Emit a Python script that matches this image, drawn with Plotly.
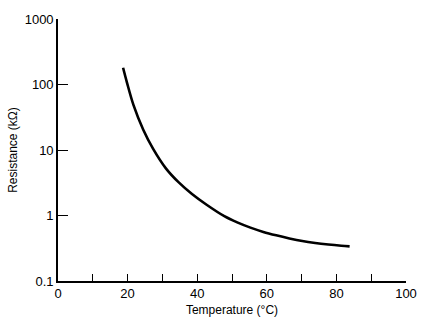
import plotly.graph_objects as go

temperature = [18.7, 19.8, 21.7, 24.5, 27.3, 31.0, 34.7, 38.5, 42.7, 47.8, 51.5, 55.3, 59.0, 62.7, 66.5, 70.2, 73.9, 77.7, 81.4, 83.8]
resistance = [180, 108, 48.5, 20.4, 10.5, 5.25, 3.2, 2.13, 1.46, 0.977, 0.785, 0.653, 0.562, 0.498, 0.447, 0.408, 0.381, 0.361, 0.346, 0.338]

x_ticks = [0, 10, 20, 30, 40, 50, 60, 70, 80, 90, 100]
x_ticktext = ["0", "", "20", "", "40", "", "60", "", "80", "", "100"]
y_ticks = [0.1, 1, 10, 100, 1000]
y_ticktext = ["0.1", "1", "10", "100", "1000"]

fig = go.Figure()
fig.add_trace(go.Scatter(x=temperature, y=resistance, mode="lines",
                         line=dict(color="black", width=2.6, shape="spline", smoothing=1.0),
                         showlegend=False))

tick_font = dict(family="Liberation Sans, Arial, sans-serif", size=13, color="black")
title_font = dict(family="Liberation Sans, Arial, sans-serif", size=12, color="black")
fig.update_layout(
    width=429, height=327,
    margin=dict(l=56, r=16, t=13, b=44),
    paper_bgcolor="white", plot_bgcolor="white",
    font=tick_font,
    xaxis=dict(range=[0, 100], tickvals=x_ticks, ticktext=x_ticktext,
               ticks="inside", ticklen=7, tickwidth=1.2, tickcolor="black",
               showline=True, linecolor="black", linewidth=1.6,
               showgrid=False, zeroline=False, tickfont=tick_font,
               title=dict(text="Temperature (°C)", standoff=5, font=title_font)),
    yaxis=dict(type="log", range=[-1, 3], tickvals=y_ticks, ticktext=y_ticktext,
               ticks="inside", ticklen=10, tickwidth=1.2, tickcolor="black",
               showline=True, linecolor="black", linewidth=1.6,
               showgrid=False, zeroline=False, tickfont=tick_font,
               title=dict(text="Resistance (kΩ)", standoff=4, font=title_font)),
)

fig.write_html("out.html")
